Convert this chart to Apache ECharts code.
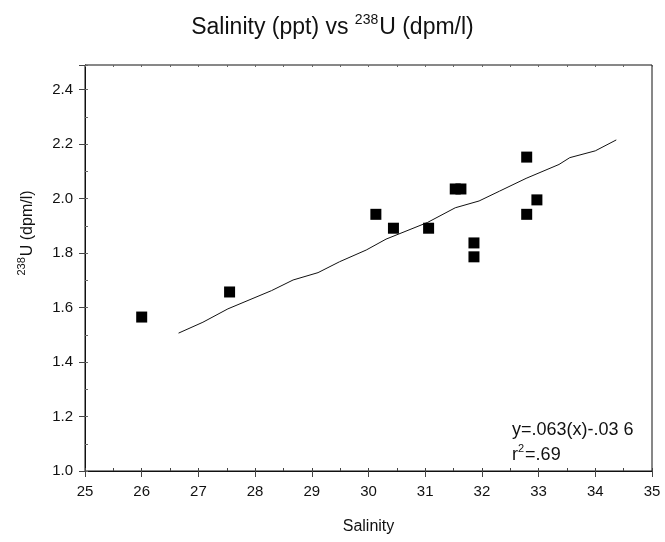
<!DOCTYPE html>
<html>
<head>
<meta charset="utf-8">
<script src="https://cdn.jsdelivr.net/npm/echarts@6/dist/echarts.min.js"></script>
<style>
  html, body { margin: 0; padding: 0; background: #fff; }
  #chart { width: 665px; height: 542px; }
</style>
</head>
<body>
<div id="chart"></div>
<script>
// Measured samples: salinity (ppt) and 238U activity (dpm/l)
const salinity = [26.0, 27.55, 30.13, 30.44, 31.06, 31.53, 31.63, 31.86, 31.86, 32.79, 32.79, 32.97];
const u238 = [1.565, 1.657, 1.942, 1.891, 1.891, 2.035, 2.035, 1.837, 1.786, 2.152, 1.942, 1.995];

// Fitted trend curve
const fitX = [26.65, 27.08, 27.52, 28.29, 28.67, 29.11, 29.49, 29.96, 30.31, 31.04, 31.53, 31.95, 32.31, 32.78, 33.36, 33.55, 34.0, 34.37];
const fitY = [1.506, 1.546, 1.595, 1.662, 1.701, 1.728, 1.768, 1.811, 1.851, 1.912, 1.966, 1.991, 2.027, 2.074, 2.125, 2.15, 2.175, 2.215];

// Axis settings
const xMin = 25, xMax = 35, xStep = 1;
const yMin = 1.0, yMax = 2.49, yStep = 0.2;

const FONT = '"Liberation Sans", Arial, sans-serif';
const INK = '#111';

const chart = echarts.init(document.getElementById('chart'), null, { renderer: 'canvas' });

const scatterData = salinity.map((s, i) => [s, u238[i]]);
const fitData = fitX.map((x, i) => [x, fitY[i]]);

function isStep(v, step, base) {
  const k = (v - base) / step;
  return Math.abs(k - Math.round(k)) < 1e-6;
}

// Rich-text styles: body text sits on the bottom of a taller line box,
// superscripts hang from the top of it.
const bodyStyle = size => ({
  fontFamily: FONT, fontSize: size, color: INK, fill: INK, verticalAlign: 'bottom'
});
const supStyle = (size, lineH) => ({
  fontFamily: FONT, fontSize: size, lineHeight: lineH, color: INK, fill: INK,
  verticalAlign: 'top', padding: [0, 1, 0, 0]
});

const option = {
  backgroundColor: '#fff',
  animation: false,
  title: {
    text: '{n|Salinity (ppt) vs }{sup|238}{n|U (dpm/l)}',
    left: 'center',
    top: 8,
    textStyle: {
      fontFamily: FONT,
      fontSize: 23,
      fontWeight: 'normal',
      color: INK,
      rich: { n: bodyStyle(23), sup: supStyle(14, 26) }
    }
  },
  grid: {
    left: 85, right: 13, top: 65, bottom: 71,
    show: true, borderColor: INK, borderWidth: 1, backgroundColor: 'transparent'
  },
  xAxis: [
    {
      type: 'value', position: 'bottom', min: xMin, max: xMax, interval: xStep,
      name: 'Salinity', nameLocation: 'middle', nameGap: 48,
      nameTextStyle: { fontFamily: FONT, fontSize: 16, color: INK },
      axisLine: { show: true, lineStyle: { color: INK, width: 1 } },
      axisTick: { show: true, inside: false, length: 6, lineStyle: { color: '#444' } },
      axisLabel: { fontFamily: FONT, fontSize: 15, color: INK, margin: 13 },
      splitLine: { show: false }
    },
    {
      type: 'value', position: 'bottom', min: xMin, max: xMax, interval: 0.5,
      axisLine: { show: false },
      axisTick: { show: true, inside: true, length: 3, lineStyle: { color: '#444' } },
      axisLabel: { show: false }, splitLine: { show: false }
    },
    {
      type: 'value', position: 'top', min: xMin, max: xMax, interval: 0.5,
      axisLine: { show: false },
      axisTick: { show: true, inside: true, length: 2, lineStyle: { color: '#666' } },
      axisLabel: { show: false }, splitLine: { show: false }
    }
  ],
  yAxis: [
    {
      type: 'value', position: 'left', min: yMin, max: yMax, interval: yStep,
      axisLine: { show: true, lineStyle: { color: INK, width: 1 } },
      axisTick: { show: true, inside: false, length: 6, lineStyle: { color: '#444' } },
      axisLabel: {
        fontFamily: FONT, fontSize: 15, color: INK, margin: 12,
        formatter: v => isStep(v, yStep, yMin) ? v.toFixed(1) : ''
      },
      splitLine: { show: false }
    },
    {
      type: 'value', position: 'left', min: yMin, max: yMax, interval: 0.1,
      axisLine: { show: false },
      axisTick: { show: true, inside: true, length: 3, lineStyle: { color: '#666' } },
      axisLabel: { show: false }, splitLine: { show: false }
    }
  ],
  graphic: [
    {
      // y-axis title, rotated
      type: 'text', x: 26, y: 233, rotation: Math.PI / 2,
      style: {
        text: '{sup|238}{n|U (dpm/l)}', fontFamily: FONT, fontSize: 16, fill: INK,
        align: 'center', verticalAlign: 'middle',
        rich: { n: bodyStyle(16), sup: supStyle(11, 19) }
      }
    },
    {
      type: 'text', left: 512, top: 421,
      style: { text: 'y=.063(x)-.03 6', fontFamily: FONT, fontSize: 18, fill: INK }
    },
    {
      type: 'text', left: 512, top: 443,
      style: {
        text: '{n|r}{sup|2}{n|=.69}', fontFamily: FONT, fontSize: 18, fill: INK,
        rich: { n: bodyStyle(18), sup: supStyle(11, 21) }
      }
    }
  ],
  series: [
    {
      type: 'line', xAxisIndex: 0, yAxisIndex: 0, data: fitData,
      showSymbol: false, symbol: 'none', smooth: false,
      lineStyle: { color: INK, width: 1 }, z: 2
    },
    {
      type: 'scatter', xAxisIndex: 0, yAxisIndex: 0, data: scatterData,
      symbol: 'rect', symbolSize: 11,
      itemStyle: { color: '#000', opacity: 1 }, z: 3
    }
  ]
};

chart.setOption(option);
</script>
</body>
</html>
